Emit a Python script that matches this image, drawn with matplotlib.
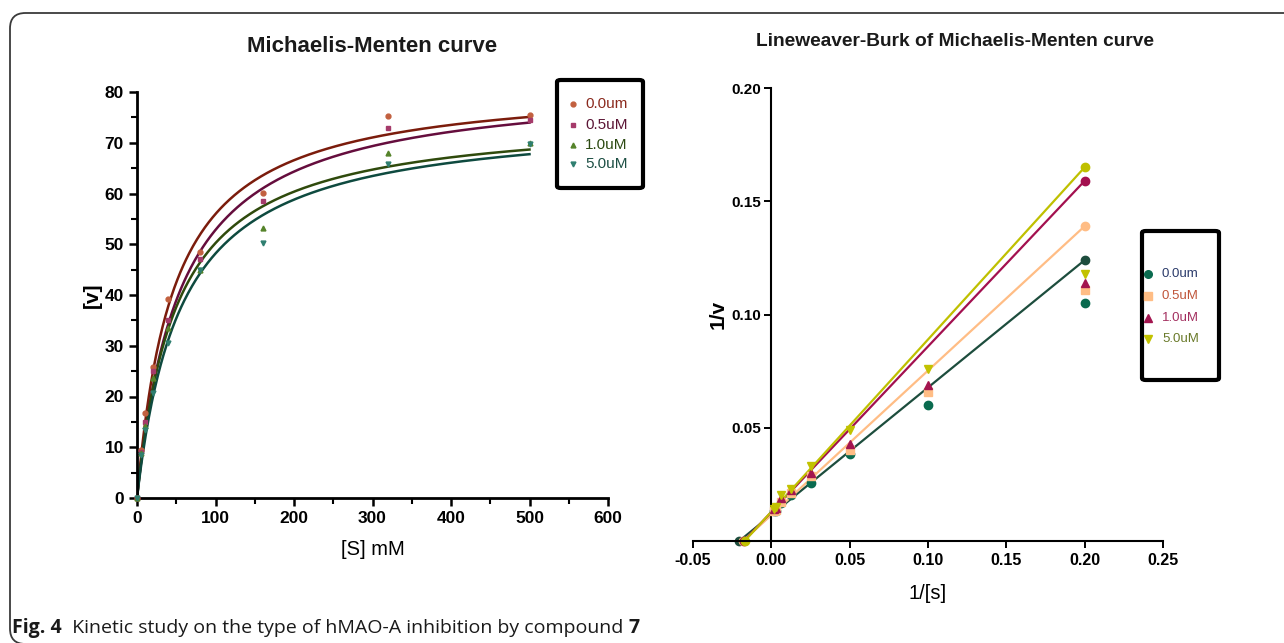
import numpy as np
import matplotlib
matplotlib.use('Agg')
import matplotlib.pyplot as plt
from matplotlib import font_manager
from matplotlib.lines import Line2D
from matplotlib.patches import FancyBboxPatch
from matplotlib.ticker import MultipleLocator

# ---- data ----
substrate = [0, 5, 10, 20, 40, 80, 160, 320, 500]          # [S] mM
series_names = ['0.0um', '0.5uM', '1.0uM', '5.0uM']
v_00 = [0, 9.5, 16.7, 25.9, 39.2, 48.5, 60.1, 75.3, 75.5]
v_05 = [0, 9.0, 15.0, 25.0, 35.1, 47.1, 58.6, 72.9, 74.5]
v_10 = [0, 8.8, 14.1, 23.6, 33.4, 44.9, 53.2, 67.9, 70.0]
v_50 = [0, 8.5, 13.4, 20.6, 30.5, 44.9, 50.2, 65.9, 69.7]
# fitted Michaelis-Menten parameters (Vmax, Km) per series
vmax = [82.1, 82.2, 75.6, 75.4]
km = [46.7, 55.6, 50.5, 56.5]

inv_s = [0.2, 0.1, 0.05, 0.025, 0.0125, 0.00625, 0.003125, 0.002]   # 1/[s]
inv_v_00 = [0.105, 0.060, 0.0385, 0.0255, 0.0205, 0.0166, 0.0133, 0.0132]
inv_v_05 = [0.111, 0.066, 0.040, 0.0285, 0.0212, 0.0171, 0.0137, 0.0134]
inv_v_10 = [0.114, 0.069, 0.043, 0.030, 0.0223, 0.0188, 0.0147, 0.0143]
inv_v_50 = [0.118, 0.076, 0.049, 0.033, 0.0230, 0.0205, 0.0152, 0.0143]
# Lineweaver-Burk fit lines: start on the x axis, end at 1/[s] = 0.2
lb_start_x = [-0.0205, -0.018, -0.0175, -0.017]
lb_end_y = [0.124, 0.139, 0.159, 0.165]
lb_end_x = 0.2

W, H = 1284, 643
available = {f.name for f in font_manager.fontManager.ttflist}
chart_font = 'Liberation Sans Narrow' if 'Liberation Sans Narrow' in available else 'Liberation Sans'
caption_font = 'Open Sans' if 'Open Sans' in available else 'DejaVu Sans'
plt.rcParams['font.family'] = [chart_font, 'DejaVu Sans']

fig = plt.figure(figsize=(W / 100, H / 100), dpi=100)
fig.patch.set_facecolor('white')


def fx(x):
    return x / W


def fy(y):
    return 1 - y / H


# outer frame of the figure panel
frame = FancyBboxPatch((fx(10), fy(644)), fx(1320) - fx(10), fy(13) - fy(644),
                       boxstyle='round,pad=0,rounding_size=0.012',
                       transform=fig.transFigure, facecolor='none',
                       edgecolor='#3a3a3a', linewidth=1.3, mutation_aspect=W / H)
fig.add_artist(frame)

# ---------------- left: Michaelis-Menten ----------------
ax1 = fig.add_axes([fx(137), fy(498), fx(608) - fx(137), fy(92) - fy(498)])
mm_values = [v_00, v_05, v_10, v_50]
mm_point_colors = ['#c2603f', '#a53a6a', '#55832a', '#2f7f70']
mm_curve_colors = ['#7b1c0c', '#650d3d', '#2f4a0c', '#0e4a3f']
mm_text_colors = ['#8b2a1e', '#5c1636', '#2c4a12', '#1d4f44']
mm_markers = ['o', 's', '^', 'v']

s_fit = np.linspace(0, 500, 400)
for i in range(4):
    ax1.plot(s_fit, vmax[i] * s_fit / (km[i] + s_fit), color=mm_curve_colors[i],
             lw=1.8, zorder=2)
for i in range(4):
    ax1.plot(substrate, mm_values[i], linestyle='none', marker=mm_markers[i],
             ms=3.5, color=mm_point_colors[i], zorder=3, clip_on=False)

ax1.set_xlim(0, 600)
ax1.set_ylim(0, 80)
ax1.xaxis.set_major_locator(MultipleLocator(100))
ax1.xaxis.set_minor_locator(MultipleLocator(50))
ax1.yaxis.set_major_locator(MultipleLocator(10))
ax1.yaxis.set_minor_locator(MultipleLocator(5))
for side in ['top', 'right']:
    ax1.spines[side].set_visible(False)
for side in ['left', 'bottom']:
    ax1.spines[side].set_linewidth(2.0)
ax1.tick_params(which='major', direction='out', length=6, width=1.8,
                labelsize=12.5)
ax1.tick_params(which='minor', direction='out', length=4, width=1.5)
for lab in ax1.get_xticklabels() + ax1.get_yticklabels():
    lab.set_fontweight('bold')
ax1.set_xlabel('[S] mM', fontsize=14.5, labelpad=10)
ax1.set_ylabel('[v]', fontsize=15, fontweight='bold', labelpad=2)
fig.text(fx(372), fy(46), 'Michaelis-Menten curve', ha='center', va='center',
         fontsize=16, fontweight='bold', color='#1a1a1a')

# ---------------- right: Lineweaver-Burk ----------------
ax2 = fig.add_axes([fx(693), fy(541), fx(1163) - fx(693), fy(88) - fy(541)])
lb_values = [inv_v_00, inv_v_05, inv_v_10, inv_v_50]
lb_colors = ['#0a6b4f', '#ffbd85', '#a3154f', '#c2c200']
lb_line_colors = ['#1d4d3d', '#ffbd85', '#a3104f', '#bfc000']
lb_text_colors = ['#2a3a6a', '#c0553a', '#a33060', '#6a7a2a']

for i in range(4):
    ax2.plot([lb_start_x[i], lb_end_x], [0, lb_end_y[i]], color=lb_line_colors[i],
             lw=1.6, marker='o', ms=6, zorder=2, clip_on=False)
for i in range(4):
    ax2.plot(inv_s, lb_values[i], linestyle='none', marker=mm_markers[i], ms=6,
             color=lb_colors[i], zorder=3, clip_on=False)

ax2.set_xlim(-0.05, 0.25)
ax2.set_ylim(0, 0.20)
ax2.set_xticks(np.arange(-0.05, 0.2501, 0.05))
ax2.set_xticklabels(['-0.05', '0.00', '0.05', '0.10', '0.15', '0.20', '0.25'])
ax2.set_yticks([0.05, 0.10, 0.15, 0.20])
ax2.set_yticklabels(['0.05', '0.10', '0.15', '0.20'])
ax2.spines['left'].set_position(('data', 0))
ax2.spines['bottom'].set_position(('data', 0))
for side in ['top', 'right']:
    ax2.spines[side].set_visible(False)
for side in ['left', 'bottom']:
    ax2.spines[side].set_linewidth(1.5)
ax2.tick_params(axis='x', direction='out', length=5, width=1.4, labelsize=11.5)
ax2.tick_params(axis='y', direction='out', length=5, width=1.4, labelsize=11,
                pad=2)
for lab in ax2.get_xticklabels() + ax2.get_yticklabels():
    lab.set_fontweight('bold')
ax2.set_xlabel('1/[s]', fontsize=14.5, labelpad=12)
fig.text(fx(718), fy(314), '1/v', rotation=90, ha='center', va='center',
         fontsize=15, fontweight='bold')
fig.text(fx(955), fy(41), 'Lineweaver-Burk of Michaelis-Menten curve', ha='center',
         va='center', fontsize=13.8, fontweight='bold', color='#1a1a1a')


# ---------------- legends (boxes drawn in pixel positions) ----------------
def draw_legend(box, rows, mark_x, text_x, markers, mcolors, tcolors, ms, fs):
    x0, y0, x1, y1 = box
    patch = FancyBboxPatch((fx(x0), fy(y1)), fx(x1) - fx(x0), fy(y0) - fy(y1),
                           boxstyle='round,pad=0,rounding_size=0.003',
                           transform=fig.transFigure, facecolor='white',
                           edgecolor='black', linewidth=3, zorder=5)
    fig.add_artist(patch)
    for yy, mk, mc, tc, name in zip(rows, markers, mcolors, tcolors, series_names):
        fig.add_artist(Line2D([fx(mark_x)], [fy(yy)], marker=mk, ms=ms, color=mc,
                              linestyle='none', transform=fig.transFigure, zorder=6))
        fig.text(fx(text_x), fy(yy), name, ha='left', va='center', fontsize=fs,
                 color=tc, zorder=6)


draw_legend((557, 80, 643, 188), [104, 125, 145, 164], 573, 585, mm_markers,
            mm_point_colors, mm_text_colors, 3.5, 11)
draw_legend((1142, 231, 1219, 380), [274, 296, 318, 339], 1148, 1162, mm_markers,
            lb_colors, lb_text_colors, 5.5, 9.5)

# ---------------- caption ----------------
renderer = fig.canvas.get_renderer()
cap_y = fy(628)
parts = [('Fig. 4', 'bold'), ('  Kinetic study on the type of hMAO-A inhibition by compound ', 'normal'),
         ('7', 'bold')]
x_cursor = fx(12)
for txt, wt in parts:
    t = fig.text(x_cursor, cap_y, txt, ha='left', va='center', fontsize=14,
                 fontweight=wt, family=caption_font, color='#1a1a1a')
    bb = t.get_window_extent(renderer=renderer)
    x_cursor += bb.width / W

fig.savefig('out.png', dpi=100)
